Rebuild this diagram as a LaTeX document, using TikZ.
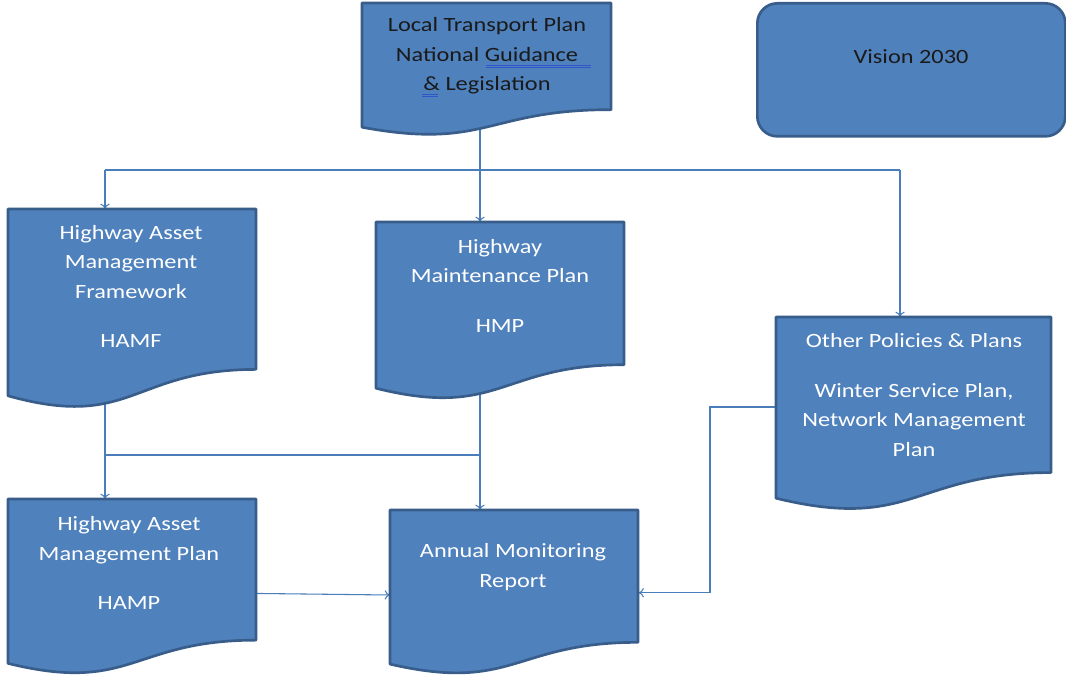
\documentclass[tikz,border=0pt]{standalone}
\usepackage{fontspec}
\setmainfont[FakeStretch=1.2]{Carlito}
\usetikzlibrary{backgrounds,arrows.meta}
\definecolor{fillc}{HTML}{4F81BD}
\definecolor{edgec}{HTML}{385D8A}
\definecolor{connc}{HTML}{4A7EBB}
\definecolor{darkt}{HTML}{1A1A1A}
\definecolor{squigc}{HTML}{3355CC}
\tikzset{
  docbox/.style={fill=fillc, draw=edgec, line width=2pt, line join=round},
  conn/.style={draw=connc, line width=0.8pt},
  arr/.style={conn, -{To[length=4pt,width=7pt]}},
  lbl/.style={align=center, font=\fontsize{15.2}{22.1}\selectfont, text=white, inner sep=0pt},
  lbldark/.style={lbl, text=darkt},
  squig/.style={draw=squigc, line width=0.5pt},
}
% name, x, y, w, h  (pixel units, y downwards)
\newcommand\docshape[5]{%
  \draw[docbox] (#2,#3) -- (#2+#4,#3) -- (#2+#4,#3+0.802*#5)
    .. controls (#2+0.5*#4,#3+0.802*#5) and (#2+0.5*#4,#3+1.107*#5) .. (#2,#3+0.934*#5) -- cycle;
  \node[inner sep=0pt, minimum width=#4*0.75pt, minimum height=#5*0.75pt, anchor=north west] (#1) at (#2,#3) {};
}
\begin{document}
\begin{tikzpicture}[x=0.75pt,y=-0.75pt]
\useasboundingbox (0,0) rectangle (1066,677);

% shapes
\docshape{ltp}{362}{3}{249}{133}
\docshape{hamf}{8}{209}{248}{200}
\docshape{hmp}{376}{222}{248}{178}
\docshape{oth}{776}{317}{275}{194}
\docshape{hamp}{8}{499}{248}{176}
\docshape{amr}{390}{510}{248}{165}
\node[docbox, rounded corners=15pt, minimum width=308*0.75pt, minimum height=133*0.75pt, anchor=north west] (vis) at (756,2) {};

% texts
\node[lbldark] (ltp-t) at (487,56) {Local Transport Plan\\National Guidance\\\& Legislation};
\node[lbldark] (vis-t) at (911,57) {Vision 2030};
\node[lbl] (hamf-t) at (131,286.5) {Highway Asset\\Management\\Framework\\[15pt]HAMF};
\node[lbl] (hmp-t) at (500,285.5) {Highway\\Maintenance Plan\\[15pt]HMP};
\node[lbl] (oth-t) at (914,395) {Other Policies \& Plans\\[15pt]Winter Service Plan,\\Network Management\\Plan};
\node[lbl] (hamp-t) at (129,563) {Highway Asset\\Management Plan\\[15pt]HAMP};
\node[lbl] (amr-t) at (513,567) {Annual Monitoring\\Report};

% proofing marks under the top text
\draw[squig] (486,65) -- (591,65) (486,67.5) -- (591,67.5);
\draw[squig] (422,94) -- (438,94) (422,96.5) -- (438,96.5);

% connectors
\coordinate (jc) at (480,170);
\coordinate (jl) at (105,170);
\coordinate (jr) at (900,170);
\coordinate (jb) at (105,455);
\coordinate (jm) at (480,455);
\coordinate (ha) at (256,592);
\coordinate (ar) at (390,595);
\coordinate (ok) at (710,407);
\begin{pgfonlayer}{background}
\fill[white] (0,0) rectangle (1066,677);
\draw[arr] (jc |- ltp.center) -- (jc |- hmp.north);
\draw[conn] (jl) -- (jr);
\draw[arr] (jl) -- (jl |- hamf.north);
\draw[arr] (jr) -- (jr |- oth.north);
\draw[arr] (jb |- hamf.center) -- (jb |- hamp.north);
\draw[conn] (jb) -- (jm);
\draw[arr] (jm |- hmp.center) -- (jm |- amr.north);
\draw[arr] (ha -| hamp.center) -- (ar);
\draw[arr] (ok -| oth.center) -- (ok) |- (amr.east);
\end{pgfonlayer}
\end{tikzpicture}
\end{document}
